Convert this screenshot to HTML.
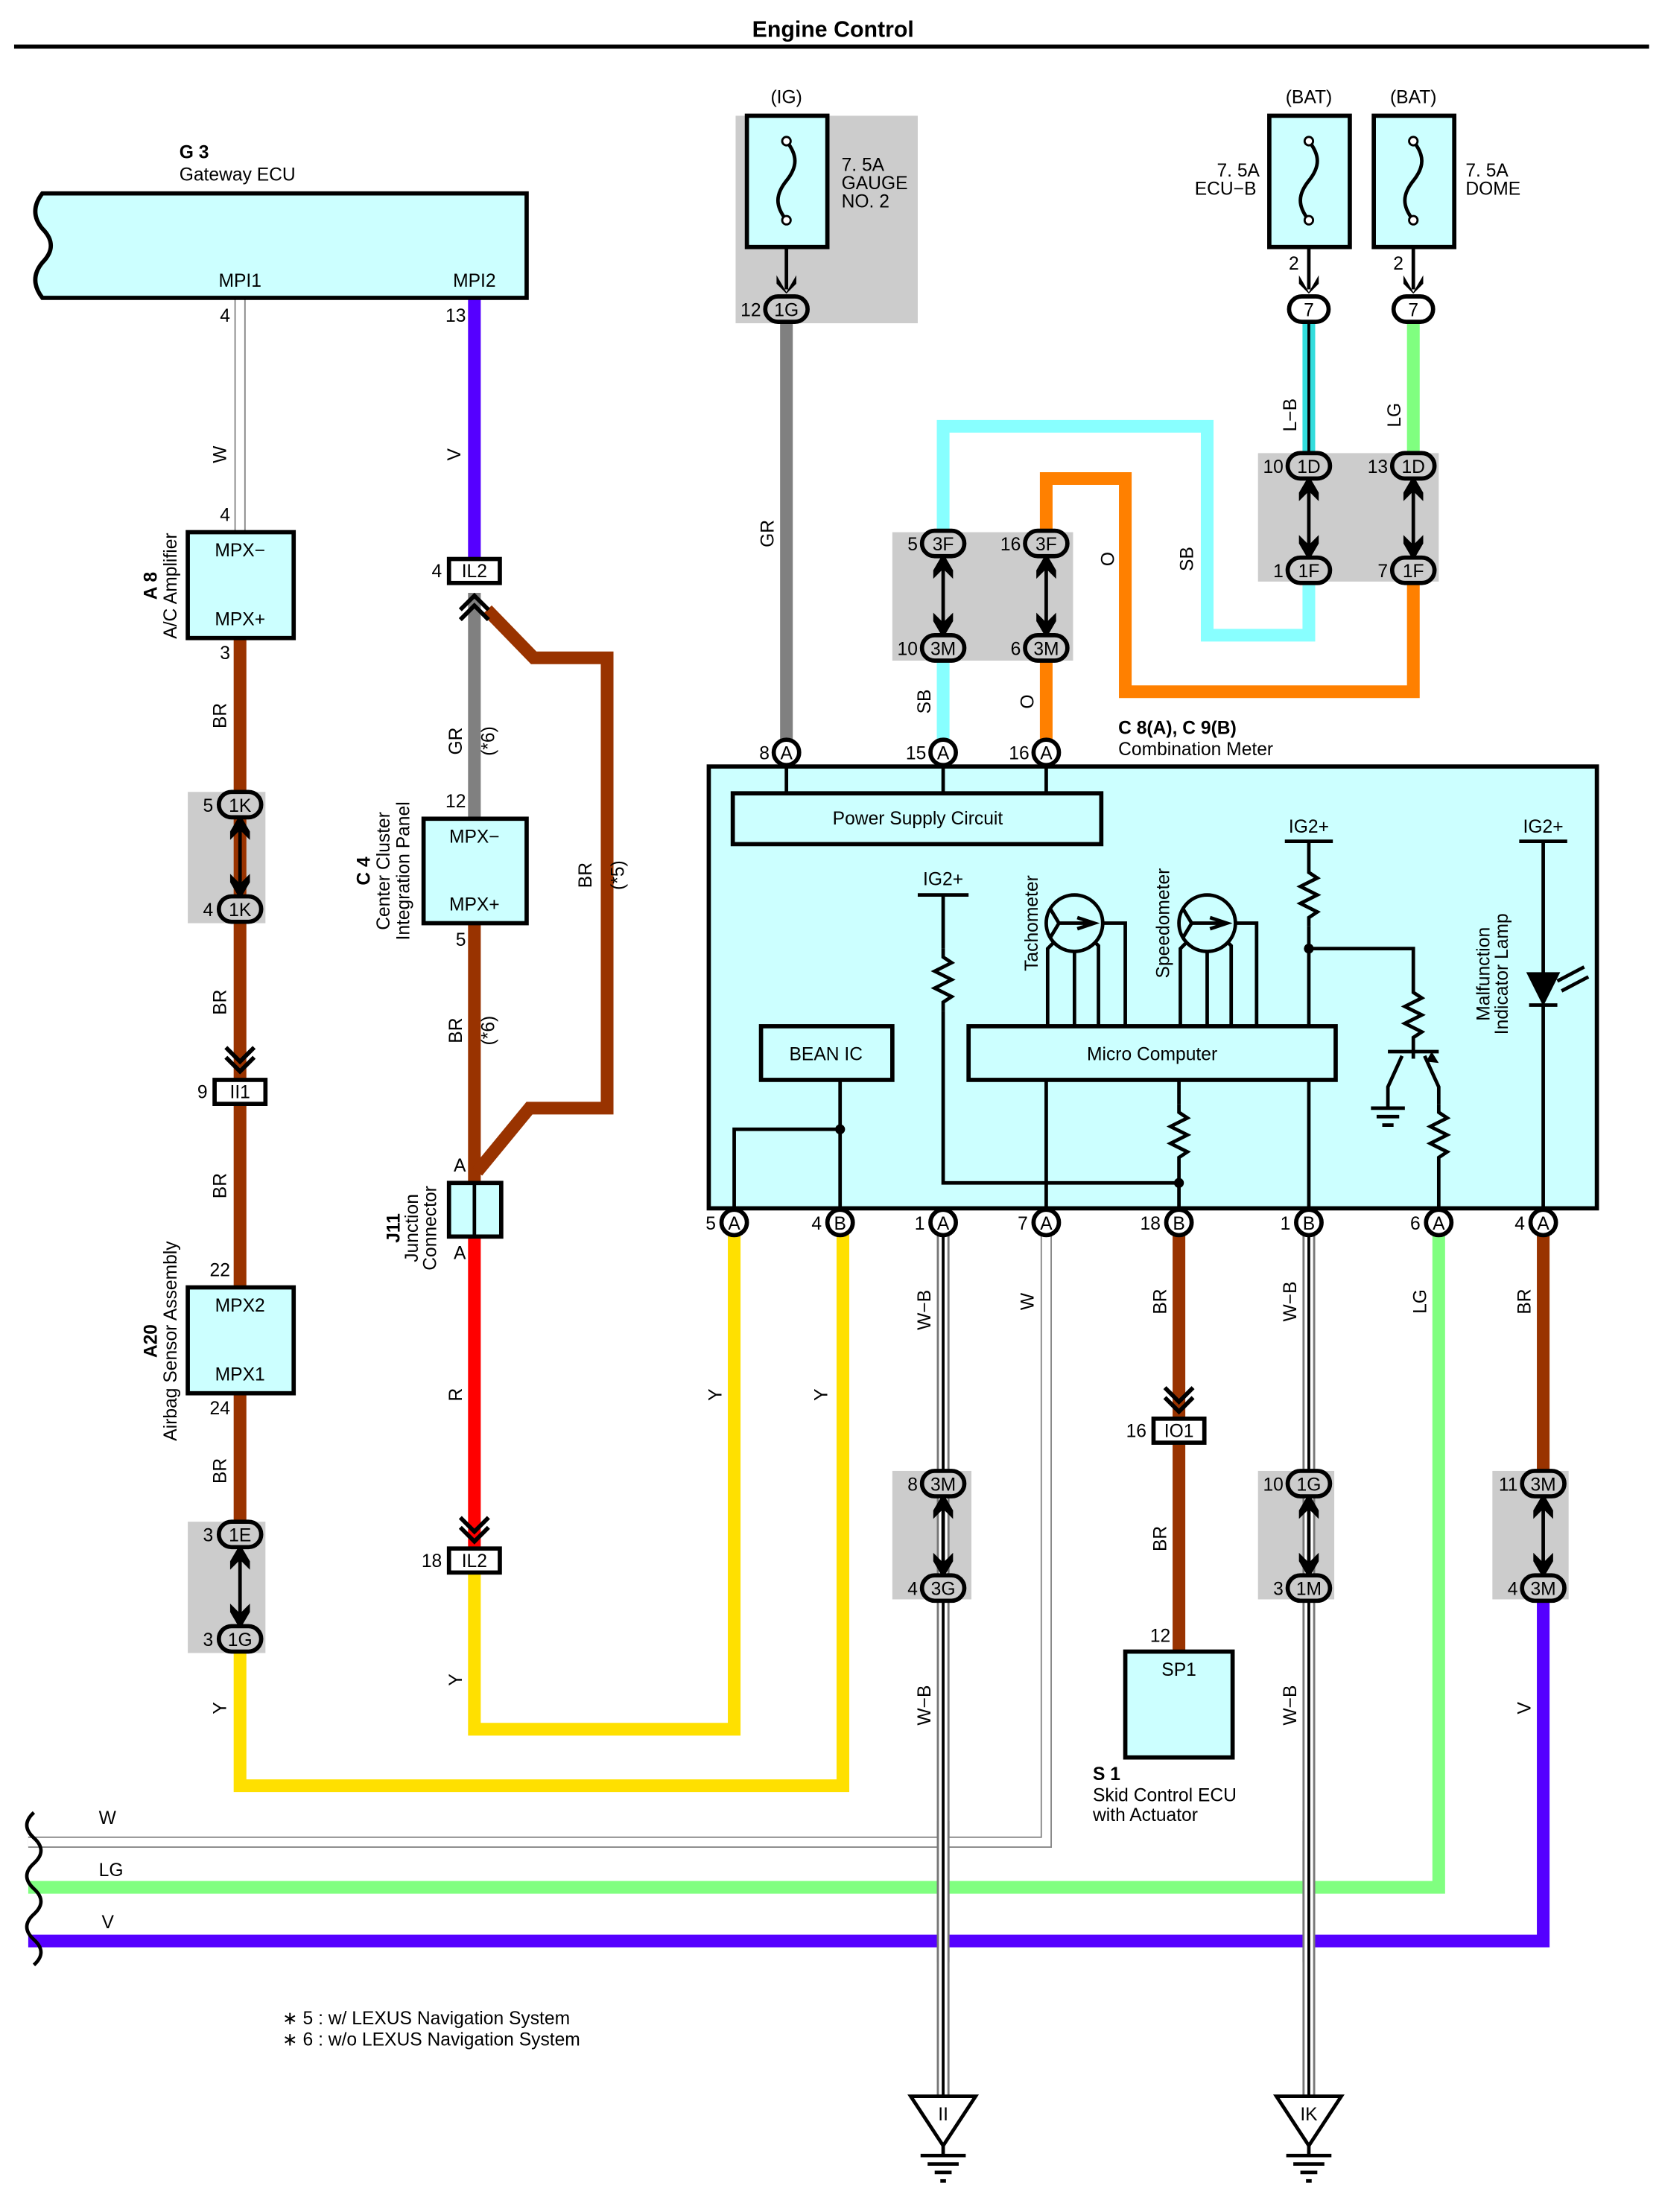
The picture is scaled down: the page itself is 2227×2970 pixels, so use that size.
<!DOCTYPE html>
<html><head><meta charset="utf-8"><style>
html,body{margin:0;padding:0;background:#fff}
svg{display:block}
text{font-family:"Liberation Sans",Arial,sans-serif;font-size:13px;fill:#000}
.c{text-anchor:middle}
.r{text-anchor:end}
.b{font-weight:bold}
</style></head><body>
<svg width="2227" height="2970" viewBox="0 0 1175 1567" preserveAspectRatio="none" xmlns="http://www.w3.org/2000/svg">
<defs>
<g id="dar">
<line x1="0" y1="-26" x2="0" y2="26" stroke="#000" stroke-width="2.5"/>
<path d="M0,-30 L-7,-18 L-7,-12 L0,-19 L7,-12 L7,-18Z" fill="#000"/>
<path d="M0,30 L-7,18 L-7,12 L0,19 L7,12 L7,18Z" fill="#000"/>
</g>
<g id="chev"><path d="M-10,-10 L0,0 L10,-10 M-10,-3 L0,7 L10,-3" fill="none" stroke="#000" stroke-width="3"/></g>
<g id="res"><path d="M0,0 L0,6 L6,10 L-6,16 L6,22 L-6,28 L6,34 L0,38 L0,44" fill="none" stroke="#000" stroke-width="2.5"/></g>
</defs>
<text x="590" y="26" class="c b" style="font-size:16px">Engine Control</text>
<line x1="10" y1="33" x2="1168" y2="33" stroke="#000" stroke-width="3"/>

<g fill="#cccccc">
<rect x="521" y="82" width="129" height="147"/>
<rect x="891" y="321" width="128" height="91"/>
<rect x="632" y="377" width="128" height="91"/>
<rect x="133" y="561" width="55" height="93"/>
<rect x="133" y="1078" width="55" height="93"/>
<rect x="632" y="1042" width="56" height="91"/>
<rect x="891" y="1042" width="54" height="91"/>
<rect x="1057" y="1042" width="54" height="91"/>
</g>

<g fill="none" stroke-linejoin="miter">
<line x1="170" y1="211" x2="170" y2="378" stroke="#888" stroke-width="8"/>
<line x1="170" y1="211" x2="170" y2="378" stroke="#fff" stroke-width="6"/>
<line x1="170" y1="452" x2="170" y2="1080" stroke="#993300" stroke-width="9"/>
<path d="M170,1170 L170,1265 L597,1265 L597,866" stroke="#ffe000" stroke-width="9"/>
<line x1="336" y1="211" x2="336" y2="398" stroke="#5500ff" stroke-width="9"/>
<line x1="336" y1="420" x2="336" y2="580" stroke="#808080" stroke-width="9"/>
<line x1="336" y1="654" x2="336" y2="840" stroke="#993300" stroke-width="9"/>
<path d="M345,432 L378,466 L430,466 L430,785 L375,785 L338,830" stroke="#993300" stroke-width="9"/>
<line x1="336" y1="876" x2="336" y2="1098" stroke="#ff0000" stroke-width="9"/>
<path d="M336,1115 L336,1225 L520,1225 L520,866" stroke="#ffe000" stroke-width="9"/>
<line x1="557" y1="229" x2="557" y2="533" stroke="#808080" stroke-width="9"/>
<line x1="927" y1="219" x2="927" y2="330" stroke="#33dddd" stroke-width="9"/>
<line x1="927" y1="219" x2="927" y2="330" stroke="#000" stroke-width="2"/>
<line x1="1001" y1="219" x2="1001" y2="330" stroke="#80ff80" stroke-width="9"/>
<path d="M927,404 L927,450 L855,450 L855,302 L668,302 L668,385" stroke="#88ffff" stroke-width="9"/>
<line x1="668" y1="459" x2="668" y2="533" stroke="#88ffff" stroke-width="9"/>
<path d="M1001,404 L1001,490 L797,490 L797,339 L741,339 L741,385" stroke="#ff8000" stroke-width="9"/>
<line x1="741" y1="459" x2="741" y2="533" stroke="#ff8000" stroke-width="9"/>
<line x1="668" y1="866" x2="668" y2="1490" stroke="#777" stroke-width="9"/>
<line x1="668" y1="866" x2="668" y2="1490" stroke="#fff" stroke-width="6"/>
<line x1="668" y1="866" x2="668" y2="1490" stroke="#000" stroke-width="2"/>
<path d="M741,866 L741,1305 L20,1305" stroke="#888" stroke-width="8"/>
<path d="M741,866 L741,1305 L20,1305" stroke="#fff" stroke-width="6"/>
<line x1="835" y1="866" x2="835" y2="1004" stroke="#993300" stroke-width="9"/>
<line x1="835" y1="1020" x2="835" y2="1170" stroke="#993300" stroke-width="9"/>
<line x1="927" y1="866" x2="927" y2="1490" stroke="#777" stroke-width="9"/>
<line x1="927" y1="866" x2="927" y2="1490" stroke="#fff" stroke-width="6"/>
<line x1="927" y1="866" x2="927" y2="1490" stroke="#000" stroke-width="2"/>
<path d="M1019,866 L1019,1337 L20,1337" stroke="#80ff80" stroke-width="9"/>
<line x1="1093" y1="866" x2="1093" y2="1050" stroke="#993300" stroke-width="9"/>
<path d="M1093,1125 L1093,1375 L20,1375" stroke="#5500ff" stroke-width="9"/>
</g>
<g>
<line x1="668" y1="1290" x2="668" y2="1390" stroke="#777" stroke-width="9"/>
<line x1="668" y1="1290" x2="668" y2="1390" stroke="#fff" stroke-width="6"/>
<line x1="668" y1="1290" x2="668" y2="1390" stroke="#000" stroke-width="2"/>
<line x1="927" y1="1290" x2="927" y2="1390" stroke="#777" stroke-width="9"/>
<line x1="927" y1="1290" x2="927" y2="1390" stroke="#fff" stroke-width="6"/>
<line x1="927" y1="1290" x2="927" y2="1390" stroke="#000" stroke-width="2"/>
</g>
<path d="M24,1284 q-10,9 0,18 q10,9 0,18 q-10,9 0,18 q10,9 0,18 q-10,9 0,18 q10,9 0,18" fill="none" stroke="#000" stroke-width="2.5"/>
<text x="70" y="1292">W</text><text x="70" y="1329">LG</text><text x="72" y="1366">V</text>

<path d="M30,137 L373,137 L373,211 L30,211 Q20,198 30,186 Q42,174 30,162 Q20,150 30,137Z" fill="#ccffff" stroke="#000" stroke-width="3"/>
<text x="127" y="112" class="b">G 3</text><text x="127" y="128">Gateway ECU</text>
<text x="170" y="203" class="c">MPI1</text><text x="336" y="203" class="c">MPI2</text>
<text x="163" y="228" class="r">4</text><text x="330" y="228" class="r">13</text>
<text x="163" y="369" class="r">4</text>
<text transform="translate(160,322) rotate(-90)" class="c">W</text>
<text transform="translate(326,322) rotate(-90)" class="c">V</text>

<rect x="133" y="377" width="75" height="75" fill="#ccffff" stroke="#000" stroke-width="3"/>
<text x="170" y="394" class="c">MPX−</text><text x="170" y="443" class="c">MPX+</text>
<text transform="translate(111,415) rotate(-90)" class="c b">A 8</text>
<text transform="translate(125,415) rotate(-90)" class="c">A/C Amplifier</text>
<text x="163" y="467" class="r">3</text>
<text transform="translate(160,507) rotate(-90)" class="c">BR</text>

<use href="#dar" x="170" y="607"/>
<rect x="155" y="561" width="30" height="18" rx="9" fill="#ccc" stroke="#000" stroke-width="3"/><text x="170" y="575" class="c">1K</text>
<rect x="155" y="635" width="30" height="18" rx="9" fill="#ccc" stroke="#000" stroke-width="3"/><text x="170" y="649" class="c">1K</text>
<text x="151" y="575" class="r">5</text><text x="151" y="649" class="r">4</text>
<text transform="translate(160,710) rotate(-90)" class="c">BR</text>
<use href="#chev" x="170" y="752"/>
<rect x="152" y="765" width="36" height="17" fill="#fff" stroke="#000" stroke-width="3"/><text x="170" y="778" class="c">II1</text>
<text x="147" y="778" class="r">9</text>
<text transform="translate(160,840) rotate(-90)" class="c">BR</text>
<text x="163" y="904" class="r">22</text>

<rect x="133" y="912" width="75" height="75" fill="#ccffff" stroke="#000" stroke-width="3"/>
<text x="170" y="929" class="c">MPX2</text><text x="170" y="978" class="c">MPX1</text>
<text transform="translate(111,950) rotate(-90)" class="c b">A20</text>
<text transform="translate(125,950) rotate(-90)" class="c">Airbag Sensor Assembly</text>
<text x="163" y="1002" class="r">24</text>
<text transform="translate(160,1042) rotate(-90)" class="c">BR</text>
<use href="#dar" x="170" y="1124"/>
<rect x="155" y="1078" width="30" height="18" rx="9" fill="#ccc" stroke="#000" stroke-width="3"/><text x="170" y="1092" class="c">1E</text>
<rect x="155" y="1152" width="30" height="18" rx="9" fill="#ccc" stroke="#000" stroke-width="3"/><text x="170" y="1166" class="c">1G</text>
<text x="151" y="1092" class="r">3</text><text x="151" y="1166" class="r">3</text>
<text transform="translate(160,1210) rotate(-90)" class="c">Y</text>

<rect x="318" y="396" width="36" height="17" fill="#fff" stroke="#000" stroke-width="3"/><text x="336" y="409" class="c">IL2</text>
<text x="313" y="409" class="r">4</text>
<path d="M326,432 L336,422 L346,432 M326,439 L336,429 L346,439" fill="none" stroke="#000" stroke-width="3"/>
<text transform="translate(327,525) rotate(-90)" class="c">GR</text>
<text transform="translate(350,525) rotate(-90)" class="c">(*6)</text>
<text x="330" y="572" class="r">12</text>
<rect x="300" y="580" width="73" height="74" fill="#ccffff" stroke="#000" stroke-width="3"/>
<text x="336" y="597" class="c">MPX−</text><text x="336" y="645" class="c">MPX+</text>
<text transform="translate(262,617) rotate(-90)" class="c b">C 4</text>
<text transform="translate(276,617) rotate(-90)" class="c">Center Cluster</text>
<text transform="translate(290,617) rotate(-90)" class="c">Integration Panel</text>
<text x="330" y="670" class="r">5</text>
<text transform="translate(327,730) rotate(-90)" class="c">BR</text>
<text transform="translate(350,730) rotate(-90)" class="c">(*6)</text>
<text transform="translate(419,620) rotate(-90)" class="c">BR</text>
<text transform="translate(442,620) rotate(-90)" class="c">(*5)</text>
<rect x="318" y="838" width="37" height="38" fill="#ccffff" stroke="#000" stroke-width="3"/>
<line x1="336" y1="838" x2="336" y2="876" stroke="#000" stroke-width="2.5"/>
<text x="330" y="830" class="r">A</text><text x="330" y="892" class="r">A</text>
<text transform="translate(283,870) rotate(-90)" class="c b">J11</text>
<text transform="translate(296,870) rotate(-90)" class="c">Junction</text>
<text transform="translate(309,870) rotate(-90)" class="c">Connector</text>
<text transform="translate(327,988) rotate(-90)" class="c">R</text>
<use href="#chev" x="336" y="1085"/>
<rect x="318" y="1097" width="36" height="17" fill="#fff" stroke="#000" stroke-width="3"/><text x="336" y="1110" class="c">IL2</text>
<text x="313" y="1110" class="r">18</text>
<text transform="translate(327,1190) rotate(-90)" class="c">Y</text>
<text transform="translate(511,988) rotate(-90)" class="c">Y</text>
<text transform="translate(586,988) rotate(-90)" class="c">Y</text>

<text x="557" y="73" class="c">(IG)</text>
<rect x="529" y="82" width="57" height="93" fill="#ccffff" stroke="#000" stroke-width="3"/>
<path d="M557,100 C565,110 565,118 557,128 C549,138 549,146 557,156" fill="none" stroke="#000" stroke-width="2.5"/>
<circle cx="557" cy="100" r="3" fill="#fff" stroke="#000" stroke-width="1.5"/><circle cx="557" cy="156" r="3" fill="#fff" stroke="#000" stroke-width="1.5"/>
<line x1="557" y1="175" x2="557" y2="205" stroke="#000" stroke-width="2.5"/>
<path d="M550,195 L557,207 L564,195 L564,201 L557,208 L550,201Z" fill="#000"/>
<text x="596" y="121">7. 5A</text><text x="596" y="134">GAUGE</text><text x="596" y="147">NO. 2</text>
<rect x="542" y="210" width="30" height="18" rx="9" fill="#ccc" stroke="#000" stroke-width="3"/><text x="557" y="224" class="c">1G</text>
<text x="539" y="224" class="r">12</text>
<text transform="translate(548,378) rotate(-90)" class="c">GR</text>

<text x="927" y="73" class="c">(BAT)</text><text x="1001" y="73" class="c">(BAT)</text>
<rect x="899" y="82" width="57" height="93" fill="#ccffff" stroke="#000" stroke-width="3"/>
<rect x="973" y="82" width="57" height="93" fill="#ccffff" stroke="#000" stroke-width="3"/>
<path d="M927,100 C935,110 935,118 927,128 C919,138 919,146 927,156" fill="none" stroke="#000" stroke-width="2.5"/>
<path d="M1001,100 C1009,110 1009,118 1001,128 C993,138 993,146 1001,156" fill="none" stroke="#000" stroke-width="2.5"/>
<circle cx="927" cy="100" r="3" fill="#fff" stroke="#000" stroke-width="1.5"/><circle cx="927" cy="156" r="3" fill="#fff" stroke="#000" stroke-width="1.5"/>
<circle cx="1001" cy="100" r="3" fill="#fff" stroke="#000" stroke-width="1.5"/><circle cx="1001" cy="156" r="3" fill="#fff" stroke="#000" stroke-width="1.5"/>
<line x1="927" y1="175" x2="927" y2="205" stroke="#000" stroke-width="2.5"/>
<line x1="1001" y1="175" x2="1001" y2="205" stroke="#000" stroke-width="2.5"/>
<path d="M920,195 L927,207 L934,195 L934,201 L927,208 L920,201Z" fill="#000"/>
<path d="M994,195 L1001,207 L1008,195 L1008,201 L1001,208 L994,201Z" fill="#000"/>
<text x="877" y="125" class="c">7. 5A</text><text x="868" y="138" class="c">ECU−B</text>
<text x="1038" y="125">7. 5A</text><text x="1038" y="138">DOME</text>
<text x="920" y="191" class="r">2</text><text x="994" y="191" class="r">2</text>
<rect x="913" y="210" width="28" height="18" rx="9" fill="#fff" stroke="#000" stroke-width="3"/><text x="927" y="224" class="c">7</text>
<rect x="987" y="210" width="28" height="18" rx="9" fill="#fff" stroke="#000" stroke-width="3"/><text x="1001" y="224" class="c">7</text>
<text transform="translate(918,294) rotate(-90)" class="c">L−B</text>
<text transform="translate(992,294) rotate(-90)" class="c">LG</text>
<use href="#dar" x="927" y="367"/><use href="#dar" x="1001" y="367"/>
<rect x="912" y="321" width="30" height="18" rx="9" fill="#ccc" stroke="#000" stroke-width="3"/><text x="927" y="335" class="c">1D</text>
<rect x="986" y="321" width="30" height="18" rx="9" fill="#ccc" stroke="#000" stroke-width="3"/><text x="1001" y="335" class="c">1D</text>
<rect x="912" y="395" width="30" height="18" rx="9" fill="#ccc" stroke="#000" stroke-width="3"/><text x="927" y="409" class="c">1F</text>
<rect x="986" y="395" width="30" height="18" rx="9" fill="#ccc" stroke="#000" stroke-width="3"/><text x="1001" y="409" class="c">1F</text>
<text x="909" y="335" class="r">10</text><text x="983" y="335" class="r">13</text>
<text x="909" y="409" class="r">1</text><text x="983" y="409" class="r">7</text>
<text transform="translate(845,396) rotate(-90)" class="c">SB</text>
<text transform="translate(789,396) rotate(-90)" class="c">O</text>

<use href="#dar" x="668" y="422"/><use href="#dar" x="741" y="422"/>
<rect x="653" y="376" width="30" height="18" rx="9" fill="#ccc" stroke="#000" stroke-width="3"/><text x="668" y="390" class="c">3F</text>
<rect x="726" y="376" width="30" height="18" rx="9" fill="#ccc" stroke="#000" stroke-width="3"/><text x="741" y="390" class="c">3F</text>
<rect x="653" y="450" width="30" height="18" rx="9" fill="#ccc" stroke="#000" stroke-width="3"/><text x="668" y="464" class="c">3M</text>
<rect x="726" y="450" width="30" height="18" rx="9" fill="#ccc" stroke="#000" stroke-width="3"/><text x="741" y="464" class="c">3M</text>
<text x="650" y="390" class="r">5</text><text x="723" y="390" class="r">16</text>
<text x="650" y="464" class="r">10</text><text x="723" y="464" class="r">6</text>
<text transform="translate(659,497) rotate(-90)" class="c">SB</text>
<text transform="translate(732,497) rotate(-90)" class="c">O</text>

<rect x="502" y="543" width="629" height="313" fill="#ccffff" stroke="#000" stroke-width="3"/>
<text x="792" y="520" class="b">C 8(A), C 9(B)</text><text x="792" y="535">Combination Meter</text>
<g>
<circle cx="557" cy="533" r="9" fill="#fff" stroke="#000" stroke-width="3"/><text x="557" y="538" class="c">A</text>
<circle cx="668" cy="533" r="9" fill="#fff" stroke="#000" stroke-width="3"/><text x="668" y="538" class="c">A</text>
<circle cx="741" cy="533" r="9" fill="#fff" stroke="#000" stroke-width="3"/><text x="741" y="538" class="c">A</text>
<text x="545" y="538" class="r">8</text><text x="656" y="538" class="r">15</text><text x="729" y="538" class="r">16</text>
</g>
<line x1="557" y1="543" x2="557" y2="562" stroke="#000" stroke-width="2.5"/>
<line x1="668" y1="543" x2="668" y2="562" stroke="#000" stroke-width="2.5"/>
<line x1="741" y1="543" x2="741" y2="562" stroke="#000" stroke-width="2.5"/>
<rect x="519" y="562" width="261" height="36" fill="#ccffff" stroke="#000" stroke-width="3"/>
<text x="650" y="584" class="c">Power Supply Circuit</text>
<rect x="539" y="727" width="93" height="38" fill="#ccffff" stroke="#000" stroke-width="3"/>
<text x="585" y="751" class="c">BEAN IC</text>
<rect x="686" y="727" width="260" height="38" fill="#ccffff" stroke="#000" stroke-width="3"/>
<text x="816" y="751" class="c">Micro Computer</text>
<g fill="none" stroke="#000" stroke-width="2.5">
<path d="M520,856 L520,800 L595,800"/><path d="M595,765 L595,856"/>
<path d="M650,634 L686,634 M668,634 L668,672"/><path d="M668,716 L668,838 L835,838"/>
<path d="M741,765 L741,856"/>
<path d="M835,765 L835,782 M835,826 L835,856"/>
<path d="M910,596 L944,596 M927,596 L927,612 M927,656 L927,727 M927,765 L927,856"/>
<path d="M927,672 L1001,672 L1001,697 M1001,741 L1001,745"/>
<path d="M983,745 L1019,745 M1001,745 L1001,750"/>
<path d="M993,748 L983,770 L983,785 M971,785 L995,785 M975,791 L991,791 M979,797 L987,797"/>
<path d="M1009,748 L1019,770 L1019,782 M1019,826 L1019,856"/>
<path d="M1076,596 L1110,596 M1093,596 L1093,690 M1093,712 L1093,856"/>
<path d="M1083,690 L1103,690 L1093,710Z" fill="#000"/><path d="M1083,712 L1103,712"/>
<path d="M1103,695 L1122,685 M1106,702 L1125,692"/>
<circle cx="761" cy="654" r="20"/><path d="M744,644 L750,654 L744,664 M750,654 L775,654 M763,650 L775,654 L763,658"/>
<path d="M742,727 L742,672 L747,667 M761,727 L761,674 M778,727 L778,670 L775,667 M781,654 L797,654 L797,727"/>
<circle cx="855" cy="654" r="20"/><path d="M838,644 L844,654 L838,664 M844,654 L869,654 M857,650 L869,654 L857,658"/>
<path d="M836,727 L836,672 L841,667 M855,727 L855,674 M872,727 L872,670 L869,667 M875,654 L890,654 L890,727"/>
</g>
<path d="M1014,745 L1019,753 L1010,752Z" fill="#000"/>
<use href="#res" x="668" y="672"/><use href="#res" x="835" y="782"/><use href="#res" x="927" y="612"/>
<use href="#res" x="1001" y="697"/><use href="#res" x="1019" y="782"/>
<circle cx="595" cy="800" r="3.5"/><circle cx="835" cy="838" r="3.5"/><circle cx="927" cy="672" r="3.5"/>
<text x="668" y="627" class="c">IG2+</text><text x="927" y="590" class="c">IG2+</text><text x="1093" y="590" class="c">IG2+</text>
<text transform="translate(735,654) rotate(-90)" class="c">Tachometer</text>
<text transform="translate(828,654) rotate(-90)" class="c">Speedometer</text>
<text transform="translate(1055,690) rotate(-90)" class="c">Malfunction</text>
<text transform="translate(1068,690) rotate(-90)" class="c">Indicator Lamp</text>
<g>
<circle cx="520" cy="866" r="9" fill="#fff" stroke="#000" stroke-width="3"/><text x="520" y="871" class="c">A</text>
<circle cx="595" cy="866" r="9" fill="#fff" stroke="#000" stroke-width="3"/><text x="595" y="871" class="c">B</text>
<circle cx="668" cy="866" r="9" fill="#fff" stroke="#000" stroke-width="3"/><text x="668" y="871" class="c">A</text>
<circle cx="741" cy="866" r="9" fill="#fff" stroke="#000" stroke-width="3"/><text x="741" y="871" class="c">A</text>
<circle cx="835" cy="866" r="9" fill="#fff" stroke="#000" stroke-width="3"/><text x="835" y="871" class="c">B</text>
<circle cx="927" cy="866" r="9" fill="#fff" stroke="#000" stroke-width="3"/><text x="927" y="871" class="c">B</text>
<circle cx="1019" cy="866" r="9" fill="#fff" stroke="#000" stroke-width="3"/><text x="1019" y="871" class="c">A</text>
<circle cx="1093" cy="866" r="9" fill="#fff" stroke="#000" stroke-width="3"/><text x="1093" y="871" class="c">A</text>
<text x="507" y="871" class="r">5</text><text x="582" y="871" class="r">4</text><text x="655" y="871" class="r">1</text>
<text x="728" y="871" class="r">7</text><text x="822" y="871" class="r">18</text><text x="914" y="871" class="r">1</text>
<text x="1006" y="871" class="r">6</text><text x="1080" y="871" class="r">4</text>
</g>
<text transform="translate(659,928) rotate(-90)" class="c">W−B</text>
<text transform="translate(732,922) rotate(-90)" class="c">W</text>
<text transform="translate(826,922) rotate(-90)" class="c">BR</text>
<text transform="translate(918,922) rotate(-90)" class="c">W−B</text>
<text transform="translate(1010,922) rotate(-90)" class="c">LG</text>
<text transform="translate(1084,922) rotate(-90)" class="c">BR</text>

<use href="#dar" x="668" y="1088"/><use href="#dar" x="927" y="1088"/><use href="#dar" x="1093" y="1088"/>
<rect x="653" y="1042" width="30" height="18" rx="9" fill="#ccc" stroke="#000" stroke-width="3"/><text x="668" y="1056" class="c">3M</text>
<rect x="653" y="1116" width="30" height="18" rx="9" fill="#ccc" stroke="#000" stroke-width="3"/><text x="668" y="1130" class="c">3G</text>
<rect x="912" y="1042" width="30" height="18" rx="9" fill="#ccc" stroke="#000" stroke-width="3"/><text x="927" y="1056" class="c">1G</text>
<rect x="912" y="1116" width="30" height="18" rx="9" fill="#ccc" stroke="#000" stroke-width="3"/><text x="927" y="1130" class="c">1M</text>
<rect x="1078" y="1042" width="30" height="18" rx="9" fill="#ccc" stroke="#000" stroke-width="3"/><text x="1093" y="1056" class="c">3M</text>
<rect x="1078" y="1116" width="30" height="18" rx="9" fill="#ccc" stroke="#000" stroke-width="3"/><text x="1093" y="1130" class="c">3M</text>
<text x="650" y="1056" class="r">8</text><text x="650" y="1130" class="r">4</text>
<text x="909" y="1056" class="r">10</text><text x="909" y="1130" class="r">3</text>
<text x="1075" y="1056" class="r">11</text><text x="1075" y="1130" class="r">4</text>
<text transform="translate(659,1208) rotate(-90)" class="c">W−B</text>
<text transform="translate(918,1208) rotate(-90)" class="c">W−B</text>
<text transform="translate(1084,1210) rotate(-90)" class="c">V</text>

<use href="#chev" x="835" y="993"/>
<rect x="817" y="1005" width="36" height="17" fill="#fff" stroke="#000" stroke-width="3"/><text x="835" y="1018" class="c">IO1</text>
<text x="812" y="1018" class="r">16</text>
<text transform="translate(826,1090) rotate(-90)" class="c">BR</text>
<text x="829" y="1163" class="r">12</text>
<rect x="797" y="1170" width="76" height="75" fill="#ccffff" stroke="#000" stroke-width="3"/>
<text x="835" y="1187" class="c">SP1</text>
<text x="774" y="1261" class="b">S 1</text><text x="774" y="1276">Skid Control ECU</text><text x="774" y="1290">with Actuator</text>

<g fill="#fff" stroke="#000" stroke-width="2.5">
<path d="M645,1485 L691,1485 L668,1520Z"/><path d="M904,1485 L950,1485 L927,1520Z"/>
</g>
<g stroke="#000" stroke-width="2.5">
<line x1="668" y1="1520" x2="668" y2="1527"/><line x1="652" y1="1527" x2="684" y2="1527"/><line x1="657" y1="1533" x2="679" y2="1533"/><line x1="662" y1="1539" x2="674" y2="1539"/><line x1="666" y1="1545" x2="670" y2="1545"/>
<line x1="927" y1="1520" x2="927" y2="1527"/><line x1="911" y1="1527" x2="943" y2="1527"/><line x1="916" y1="1533" x2="938" y2="1533"/><line x1="921" y1="1539" x2="933" y2="1539"/><line x1="925" y1="1545" x2="929" y2="1545"/>
</g>
<text x="668" y="1502" class="c">II</text><text x="927" y="1502" class="c">IK</text>

<text x="200" y="1434">∗ 5 : w/ LEXUS Navigation System</text>
<text x="200" y="1449">∗ 6 : w/o LEXUS Navigation System</text>
</svg>
</body></html>
